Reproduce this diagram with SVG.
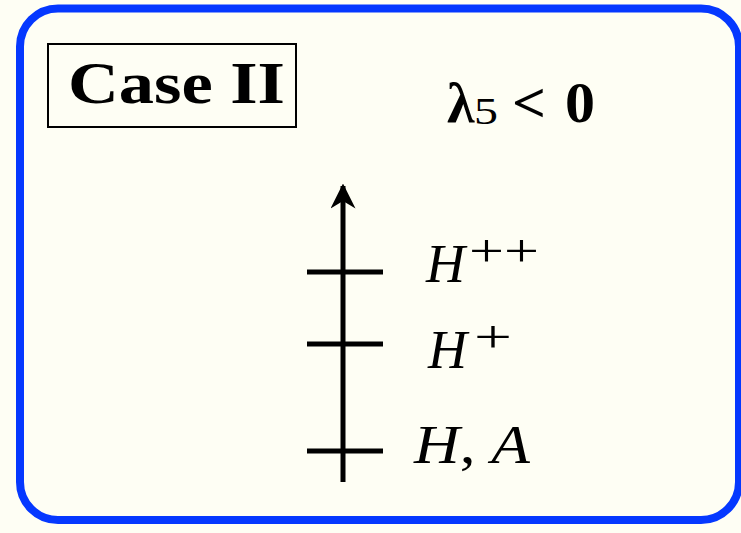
<svg xmlns="http://www.w3.org/2000/svg" width="741" height="533" viewBox="0 0 741 533">
<style>
.bold{font-family:"Liberation Serif","DejaVu Serif",serif;font-weight:bold;fill:#000}
.math{font-family:"Liberation Serif","DejaVu Serif",serif;font-style:italic;fill:#000}
.up{font-family:"Liberation Serif","DejaVu Serif",serif;fill:#000}
.tick{stroke:#000;stroke-width:5;fill:none}
</style>
<defs>
<marker id="ah" viewBox="0 0 10 10" refX="9" refY="5" markerWidth="5" markerHeight="5" orient="auto" markerUnits="strokeWidth">
<path d="M0,0 L10,5 L0,10 L3,5 Z" fill="#000"/>
</marker>
</defs>
<rect x="0" y="0" width="741" height="533" fill="#FEFEF4"/>
<rect id="frame" x="20" y="8.5" width="719" height="511.5" rx="38" ry="38" fill="#FEFEF4" stroke="#0538FF" stroke-width="8"/>
<g id="case">
<rect x="48" y="44" width="248" height="83" fill="none" stroke="#000" stroke-width="2"/>
<text class="bold" x="68" y="103" font-size="60" textLength="217" lengthAdjust="spacingAndGlyphs">Case II</text>
</g>
<g id="condition">
<text class="bold" x="447" y="122" font-size="56">λ</text>
<text class="up" x="474" y="124" font-size="38" textLength="24" lengthAdjust="spacingAndGlyphs">5</text>
<text class="bold" x="512" y="122" font-size="58" textLength="34" lengthAdjust="spacingAndGlyphs">&lt;</text>
<text class="bold" x="565" y="122" font-size="58" textLength="30" lengthAdjust="spacingAndGlyphs">0</text>
</g>
<g id="connectors">
<line x1="343" y1="482" x2="343" y2="186" class="tick" marker-end="url(#ah)"/>
</g>
<g id="Hpp">
<line x1="307" y1="272" x2="383" y2="272" class="tick"/>
<text class="math" x="426" y="282" font-size="54">H</text>
<text class="up" x="469" y="266" font-size="46" textLength="70" lengthAdjust="spacingAndGlyphs">++</text>
</g>
<g id="Hp">
<line x1="307" y1="344" x2="383" y2="344" class="tick"/>
<text class="math" x="428" y="368" font-size="54">H</text>
<text class="up" x="474" y="352" font-size="46" textLength="38" lengthAdjust="spacingAndGlyphs">+</text>
</g>
<g id="HA">
<line x1="307" y1="451" x2="383" y2="451" class="tick"/>
<text class="math" x="414" y="463" font-size="55" textLength="116" lengthAdjust="spacingAndGlyphs">H<tspan class="up" style="font-style:normal">, </tspan>A</text>
</g>
</svg>
